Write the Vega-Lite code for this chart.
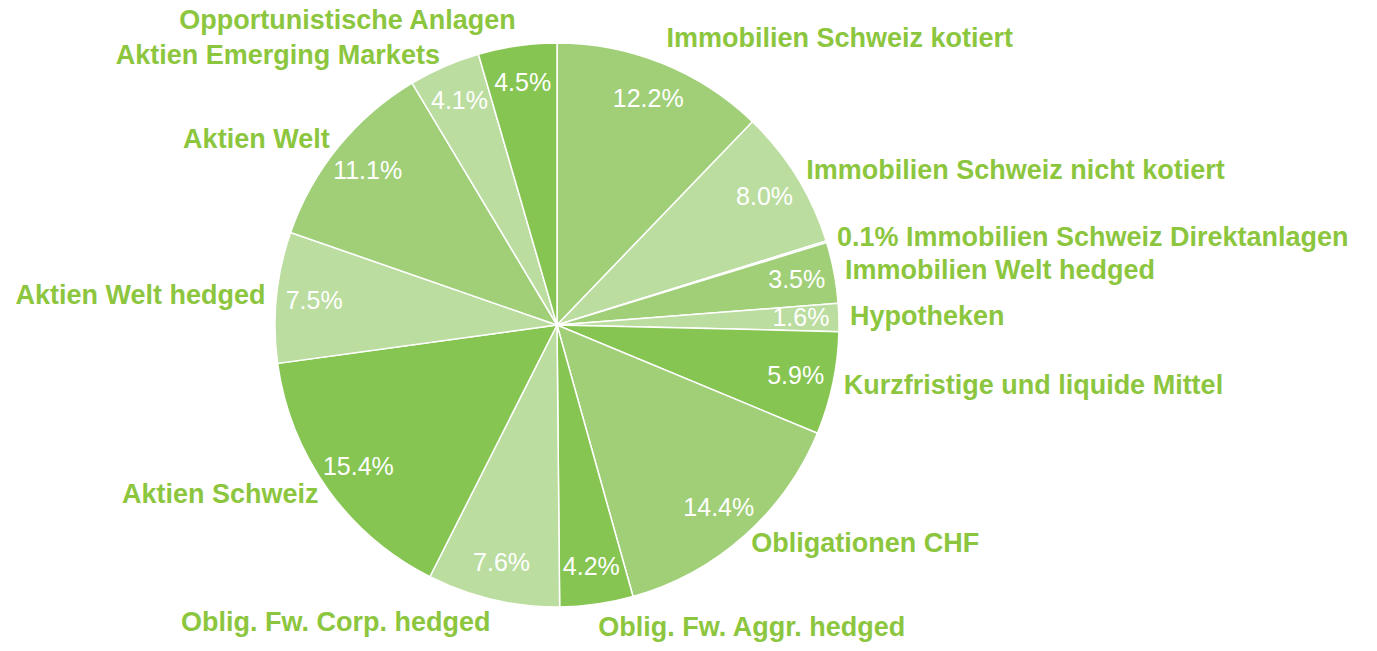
{
  "$schema": "https://vega.github.io/schema/vega-lite/v6.json",
  "width": 1114,
  "height": 650,
  "autosize": {"type": "none"},
  "padding": {"left": 0, "top": 0, "right": 263, "bottom": 1},
  "background": "white",
  "view": {"stroke": null},
  "data": {
    "values": [
      {"name": "Immobilien Schweiz kotiert", "value": 12.2},
      {"name": "Immobilien Schweiz nicht kotiert", "value": 8.0},
      {"name": "Immobilien Schweiz Direktanlagen", "value": 0.1},
      {"name": "Immobilien Welt hedged", "value": 3.5},
      {"name": "Hypotheken", "value": 1.6},
      {"name": "Kurzfristige und liquide Mittel", "value": 5.9},
      {"name": "Obligationen CHF", "value": 14.4},
      {"name": "Oblig. Fw. Aggr. hedged", "value": 4.2},
      {"name": "Oblig. Fw. Corp. hedged", "value": 7.6},
      {"name": "Aktien Schweiz", "value": 15.4},
      {"name": "Aktien Welt hedged", "value": 7.5},
      {"name": "Aktien Welt", "value": 11.1},
      {"name": "Aktien Emerging Markets", "value": 4.1},
      {"name": "Opportunistische Anlagen", "value": 4.5}
    ]
  },
  "transform": [
    {"window": [{"op": "row_number", "as": "i"}, {"op": "sum", "field": "value", "as": "cum"}], "frame": [null, 0]},
    {"calculate": "datum.cum - datum.value / 2", "as": "mid"},
    {"calculate": "datum.value >= 1 ? format(datum.value, '.1f') + '%' : ''", "as": "pct"},
    {"calculate": "datum.value < 1 ? format(datum.value, '.1f') + '% ' + datum.name : datum.name", "as": "label"},
    {"calculate": "datum.mid < 50 ? 'left' : 'right'", "as": "al"},
    {"calculate": "(datum.mid < 8 || datum.mid > 95) ? 'bottom' : ((datum.mid > 42 && datum.mid < 58) ? 'top' : 'middle')", "as": "bl"}
  ],
  "encoding": {
    "theta": {"field": "value", "type": "quantitative", "stack": true},
    "order": {"field": "i", "type": "quantitative"}
  },
  "layer": [
    {
      "mark": {"type": "arc", "radius": 282, "stroke": "white", "strokeWidth": 1.5},
      "encoding": {
        "color": {
          "field": "name",
          "type": "nominal",
          "legend": null,
          "scale": {
            "domain": ["Immobilien Schweiz kotiert", "Immobilien Schweiz nicht kotiert", "Immobilien Schweiz Direktanlagen", "Immobilien Welt hedged", "Hypotheken", "Kurzfristige und liquide Mittel", "Obligationen CHF", "Oblig. Fw. Aggr. hedged", "Oblig. Fw. Corp. hedged", "Aktien Schweiz", "Aktien Welt hedged", "Aktien Welt", "Aktien Emerging Markets", "Opportunistische Anlagen"],
            "range": ["#a0cf78", "#bbdd9f", "#bbdd9f", "#a0cf78", "#bbdd9f", "#86c552", "#a0cf78", "#86c552", "#bbdd9f", "#86c552", "#bbdd9f", "#a0cf78", "#bbdd9f", "#86c552"]
          }
        }
      }
    },
    {
      "mark": {"type": "text", "radius": 244, "font": "Liberation Sans", "fontSize": 25, "color": "white"},
      "encoding": {"text": {"field": "pct"}}
    },
    {
      "mark": {"type": "text", "radius": 293, "font": "Liberation Sans", "fontWeight": "bold", "fontSize": 27, "color": "#8cc63e", "align": {"expr": "datum.al"}, "baseline": {"expr": "datum.bl"}},
      "encoding": {"text": {"field": "label"}}
    }
  ]
}
